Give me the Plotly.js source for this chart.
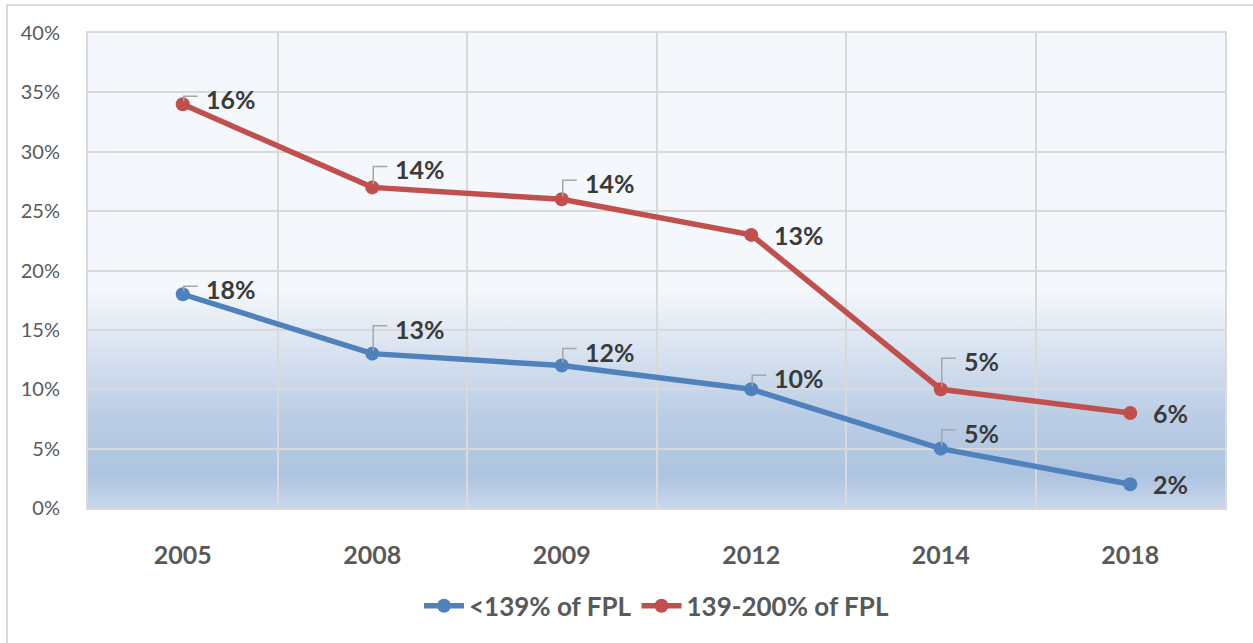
<!DOCTYPE html>
<html>
<head>
<meta charset="utf-8">
<script src="https://cdn.plot.ly/plotly-3.0.1.min.js"></script>
<style>
  html, body { margin: 0; padding: 0; background: #ffffff; }
  #wrap { position: relative; width: 1253px; height: 643px; overflow: hidden; }
  #frame { position: absolute; left: 6px; top: 4px; width: 1260px; height: 660px;
           border: 2px solid #d9d9d9; box-sizing: border-box; pointer-events: none; }
  #chart { position: absolute; left: 0; top: 0; width: 1253px; height: 643px; }
</style>
</head>
<body>
<div id="wrap">
  <div id="chart"></div>
  <div id="frame"></div>
</div>
<script>
// ---- data ----
const years = ['2005', '2008', '2009', '2012', '2014', '2018'];
const below139 = [18, 13, 12, 10, 5, 2];
const from139to200 = [34, 27, 26, 23, 10, 8];
const below139Labels = ['18%', '13%', '12%', '10%', '5%', '2%'];
const from139to200Labels = ['16%', '14%', '14%', '13%', '5%', '6%'];
const yTicks = [0, 5, 10, 15, 20, 25, 30, 35, 40];
const yTickText = ['0%', '5%', '10%', '15%', '20%', '25%', '30%', '35%', '40%'];
const seriesNames = ['<139% of FPL', '139-200% of FPL'];

// ---- label placement (pixels above the point) ----
const blueLift = [5, 25, 14, 11, 16, 0];
const redLift = [5, 18, 16, 0, 28, 0];

const BLUE = '#4f81bd';
const RED = '#c0504d';
const FONT = 'Lato, "Open Sans", sans-serif';

const traces = [
  { x: years, y: below139, name: seriesNames[0], type: 'scatter', mode: 'lines+markers',
    line: { color: BLUE, width: 5.5 }, marker: { color: BLUE, size: 14 }, hoverinfo: 'skip' },
  { x: years, y: from139to200, name: seriesNames[1], type: 'scatter', mode: 'lines+markers',
    line: { color: RED, width: 5.5 }, marker: { color: RED, size: 14 }, hoverinfo: 'skip' }
];

const annotations = [];
const shapes = [];
function addLabels(vals, labels, lifts) {
  vals.forEach((v, i) => {
    const lift = lifts[i];
    // category position by index on the category axis
    annotations.push({
      x: i, y: v, xref: 'x', yref: 'y', text: labels[i], showarrow: false,
      xanchor: 'left', yanchor: 'middle', xshift: 21, yshift: lift,
      font: { family: FONT, size: 25, color: '#3a3a3a', weight: 'bold' }
    });
    if (lift >= 5) {
      shapes.push({
        type: 'path', xref: 'x', yref: 'y', xsizemode: 'pixel', ysizemode: 'pixel',
        xanchor: i, yanchor: v,
        path: 'M 1 3 L 1 ' + (lift + 3) + ' L 15 ' + (lift + 3),
        line: { color: '#a6a6a6', width: 1.5 }
      });
    }
  });
}
addLabels(below139, below139Labels, blueLift);
addLabels(from139to200, from139to200Labels, redLift);

const gradSvg = '<svg xmlns="http://www.w3.org/2000/svg" width="100" height="100" preserveAspectRatio="none">' +
  '<defs><linearGradient id="g" x1="0" y1="0" x2="0" y2="1">' +
  '<stop offset="0" stop-color="#f4f7fb"/>' +
  '<stop offset="0.54" stop-color="#f4f7fb"/>' +
  '<stop offset="0.64" stop-color="#dfe7f2"/>' +
  '<stop offset="0.80" stop-color="#bccee6"/>' +
  '<stop offset="0.93" stop-color="#adc3df"/>' +
  '<stop offset="1" stop-color="#c8d7ec"/>' +
  '</linearGradient></defs><rect width="100" height="100" fill="url(#g)"/></svg>';

const layout = {
  width: 1253, height: 643,
  margin: { l: 88, r: 28, t: 33, b: 135 },
  paper_bgcolor: 'rgba(0,0,0,0)',
  plot_bgcolor: 'rgba(0,0,0,0)',
  showlegend: true,
  legend: {
    orientation: 'h', x: 0.5, xanchor: 'center', y: -0.206, yanchor: 'middle',
    font: { family: FONT, size: 26, color: '#595959', weight: 'bold' },
    itemwidth: 40, tracegroupgap: 0
  },
  images: [{
    source: 'data:image/svg+xml;charset=utf-8,' + encodeURIComponent(gradSvg),
    xref: 'paper', yref: 'paper', x: 0, y: 1, sizex: 1, sizey: 1,
    xanchor: 'left', yanchor: 'top', sizing: 'stretch', layer: 'below'
  }],
  xaxis: {
    type: 'category', range: [-0.5, years.length - 0.5], autorange: false,
    tickson: 'boundaries', showgrid: true, gridcolor: '#d9d9d9', gridwidth: 2,
    showline: true, mirror: true, linecolor: '#d9d9d9', linewidth: 2,
    ticks: '', ticklabelstandoff: 24, tickangle: 0,
    tickfont: { family: FONT, size: 25, color: '#595959', weight: 'bold' },
    fixedrange: true
  },
  yaxis: {
    range: [0, 40], autorange: false, tickvals: yTicks, ticktext: yTickText,
    showgrid: true, gridcolor: '#d9d9d9', gridwidth: 2,
    zeroline: false, showline: true, mirror: true, linecolor: '#d9d9d9', linewidth: 2,
    ticks: '', ticklabelstandoff: 22,
    tickfont: { family: FONT, size: 20, color: '#595959' },
    fixedrange: true
  },
  annotations: annotations,
  shapes: shapes
};

Plotly.newPlot('chart', traces, layout, { displayModeBar: false, staticPlot: true });
</script>
</body>
</html>
